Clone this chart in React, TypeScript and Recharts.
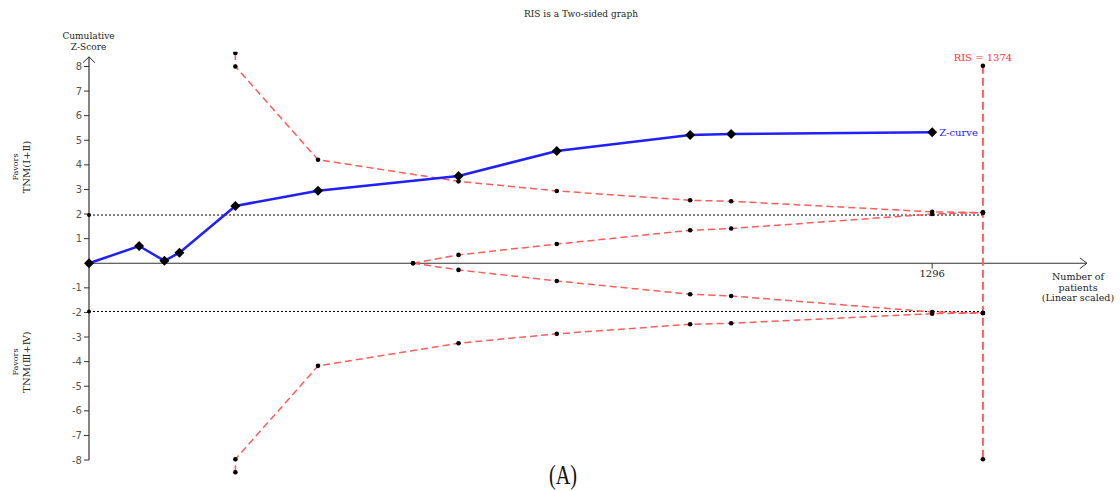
import { FC } from "react";
import {
  ComposedChart,
  Line,
  XAxis,
  YAxis,
  ReferenceLine,
  ReferenceDot,
} from "recharts";

// Z-curve (cumulative patients, z-score)
const zPatients = [0, 77, 116, 139, 225, 352, 568, 719, 924, 987, 1296];
const zScores = [0, 0.7, 0.1, 0.43, 2.33, 2.95, 3.55, 4.56, 5.21, 5.25, 5.33];

// alpha-spending (benefit/harm) boundaries
const boundPatients = [225, 225, 352, 568, 719, 924, 987, 1296, 1374];
const upperBound = [8.55, 8.0, 4.21, 3.33, 2.94, 2.56, 2.52, 2.09, 2.06];
const lowerBound = [-8.5, -7.97, -4.17, -3.25, -2.87, -2.48, -2.44, -2.05, -2.02];

// inner (futility) boundaries
const futPatients = [498, 568, 719, 924, 987, 1296, 1374];
const futUpper = [0, 0.34, 0.78, 1.34, 1.41, 2.0, 2.06];
const futLower = [0, -0.27, -0.72, -1.26, -1.33, -1.98, -2.02];

// required information size line
const risValue = 1374;
const risZ = [8.03, 2.06, -2.02, -7.97];

const yTicks = [-8, -7, -6, -5, -4, -3, -2, -1, 1, 2, 3, 4, 5, 6, 7, 8];
const xTick = 1296;
const conventional = 1.96;

const xMax = 1534;
const yTop = 8.39;

const zip = (xs: number[], ys: number[]) => xs.map((x, i) => ({ x, y: ys[i] }));

const zData = zip(zPatients, zScores);
const upperData = zip(boundPatients, upperBound);
const lowerData = zip(boundPatients, lowerBound);
const futUpperData = zip(futPatients, futUpper);
const futLowerData = zip(futPatients, futLower);
const risData = risZ.map((y) => ({ x: risValue, y }));

const RED = "#ff5c5c";
const AXIS = "#333";

const Diamond = (props: any) => {
  const { cx, cy } = props;
  if (cx == null || cy == null) return null;
  const s = 5;
  return (
    <polygon
      points={`${cx},${cy - s} ${cx + s},${cy} ${cx},${cy + s} ${cx - s},${cy}`}
      fill="#000"
    />
  );
};

const SmallDot = (props: any) => {
  const { cx, cy } = props;
  if (cx == null || cy == null) return null;
  return <circle cx={cx} cy={cy} r={2.3} fill="#000" />;
};

const serif = "'DejaVu Serif', serif";

const App: FC = () => {
  return (
    <div style={{ position: "absolute", left: 0, top: 0, width: 1120, height: 491, background: "#fff" }}>
      <ComposedChart
        width={1120}
        height={491}
        margin={{ top: 51.7, right: 33, bottom: 16.2, left: 49 }}
      >
        <XAxis type="number" dataKey="x" domain={[0, xMax]} hide />
        <YAxis
          type="number"
          dataKey="y"
          domain={[-8.6, 8.6]}
          ticks={yTicks}
          width={40}
          axisLine={false}
          tickLine={{ stroke: AXIS }}
          tickSize={5}
          tick={{ fontSize: 10, fill: "#555", fontFamily: "'DejaVu Sans', sans-serif" }}
          allowDataOverflow
        />

        {/* axes */}
        <ReferenceLine
          segment={[{ x: 0, y: -8 }, { x: 0, y: yTop }]}
          stroke={AXIS}
          strokeWidth={1.2}
          ifOverflow="visible"
        />
        <ReferenceLine
          segment={[{ x: -9.2, y: yTop - 0.24 }, { x: 0, y: yTop }]}
          stroke={AXIS}
          ifOverflow="visible"
        />
        <ReferenceLine
          segment={[{ x: 9.2, y: yTop - 0.24 }, { x: 0, y: yTop }]}
          stroke={AXIS}
          ifOverflow="visible"
        />
        <ReferenceLine
          segment={[{ x: 0, y: 0 }, { x: xMax, y: 0 }]}
          stroke={AXIS}
          strokeWidth={1.2}
          ifOverflow="visible"
        />
        <ReferenceLine
          segment={[{ x: xMax - 11, y: 0.22 }, { x: xMax, y: 0 }]}
          stroke={AXIS}
          ifOverflow="visible"
        />
        <ReferenceLine
          segment={[{ x: xMax - 11, y: -0.22 }, { x: xMax, y: 0 }]}
          stroke={AXIS}
          ifOverflow="visible"
        />
        <ReferenceLine
          segment={[{ x: xTick, y: 0 }, { x: xTick, y: -0.22 }]}
          stroke={AXIS}
          ifOverflow="visible"
        />
        <ReferenceDot
          x={xTick}
          y={0}
          r={0}
          stroke="none"
          ifOverflow="visible"
          label={{ value: String(xTick), position: "bottom", offset: 7, fontSize: 10, fill: "#222", fontFamily: serif }}
        />

        {/* conventional boundaries */}
        <ReferenceLine
          segment={[{ x: 0, y: conventional }, { x: risValue, y: conventional }]}
          stroke="#000"
          strokeDasharray="2 2"
          ifOverflow="visible"
        />
        <ReferenceLine
          segment={[{ x: 0, y: -conventional }, { x: risValue, y: -conventional }]}
          stroke="#000"
          strokeDasharray="2 2"
          ifOverflow="visible"
        />
        <ReferenceDot x={0} y={conventional} r={2} fill="#000" stroke="none" ifOverflow="visible" />
        <ReferenceDot x={0} y={-conventional} r={2} fill="#000" stroke="none" ifOverflow="visible" />

        {/* boundaries */}
        {[upperData, lowerData, futUpperData, futLowerData].map((d, i) => (
          <Line
            key={i}
            data={d}
            dataKey="y"
            type="linear"
            stroke={RED}
            strokeWidth={1.5}
            strokeDasharray="7 4"
            dot={<SmallDot />}
            activeDot={false}
            isAnimationActive={false}
          />
        ))}
        <Line
          data={risData}
          dataKey="y"
          type="linear"
          stroke={RED}
          strokeWidth={2}
          strokeDasharray="8 4"
          dot={<SmallDot />}
          activeDot={false}
          isAnimationActive={false}
        />

        {/* Z-curve */}
        <Line
          data={zData}
          dataKey="y"
          type="linear"
          stroke="#1f1fff"
          strokeWidth={2.5}
          dot={<Diamond />}
          activeDot={false}
          isAnimationActive={false}
        />

        <ReferenceDot
          x={zPatients[zPatients.length - 1]}
          y={zScores[zScores.length - 1]}
          r={0}
          stroke="none"
          ifOverflow="visible"
          label={{ value: "Z-curve", position: "right", offset: 7, fontSize: 10, fill: "#2222ff", fontFamily: serif }}
        />
        <ReferenceDot
          x={risValue}
          y={risZ[0]}
          r={0}
          stroke="none"
          ifOverflow="visible"
          label={{ value: `RIS = ${risValue}`, position: "top", offset: 5, fontSize: 10, fill: "#ff3030", fontFamily: serif }}
        />
      </ComposedChart>

      <svg
        width={1120}
        height={491}
        style={{ position: "absolute", left: 0, top: 0, pointerEvents: "none" }}
      >
        <text x={581} y={17} textAnchor="middle" fontSize={9} fontFamily={serif} fill="#222">
          RIS is a Two-sided graph
        </text>
        <text textAnchor="middle" fontSize={9} fontFamily={serif} fill="#222">
          <tspan x={88.5} y={39}>Cumulative</tspan>
          <tspan x={88.5} y={50}>Z-Score</tspan>
        </text>
        <text textAnchor="middle" fontSize={9.5} fontFamily={serif} fill="#222">
          <tspan x={1078} y={280}>Number of</tspan>
          <tspan x={1078} y={291}>patients</tspan>
          <tspan x={1078} y={301}>(Linear scaled)</tspan>
        </text>
        <g transform="translate(0,167) rotate(-90)" fontFamily={serif} fill="#222" textAnchor="middle">
          <text x={0} y={18} fontSize={8}>Favors</text>
          <text x={0} y={30} fontSize={10}>TNM(Ⅰ+Ⅱ)</text>
        </g>
        <g transform="translate(0,362) rotate(-90)" fontFamily={serif} fill="#222" textAnchor="middle">
          <text x={0} y={18} fontSize={8}>Favors</text>
          <text x={0} y={30} fontSize={10}>TNM(Ⅲ+Ⅳ)</text>
        </g>
        <g transform="translate(563,484) scale(0.75,1)">
          <text x={0} y={0} textAnchor="middle" fontSize={27} fontFamily="'Liberation Serif', serif" fill="#111">
            (A)
          </text>
        </g>
      </svg>
    </div>
  );
};

export default App;
